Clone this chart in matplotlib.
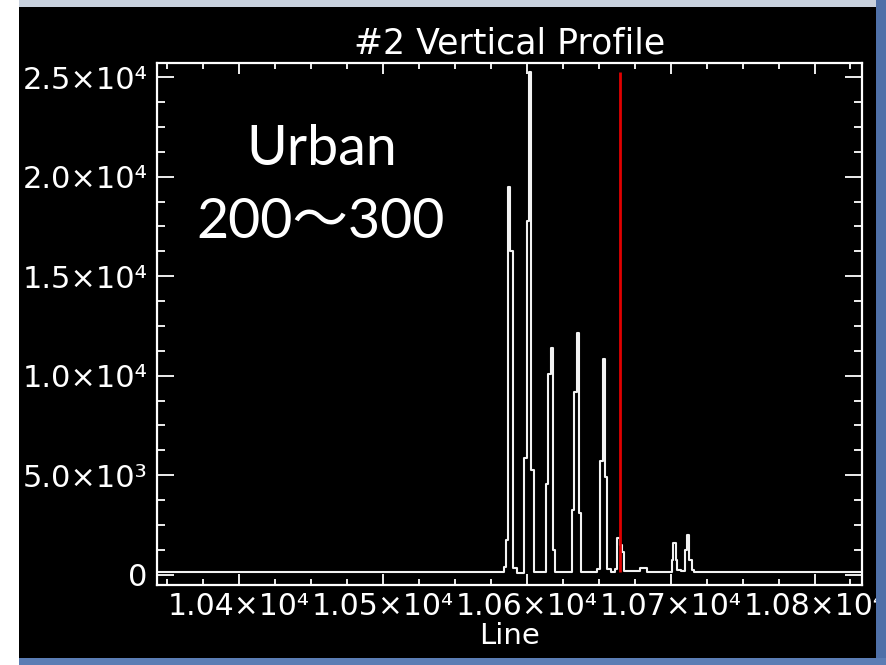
import matplotlib
matplotlib.use("Agg")
import matplotlib.pyplot as plt
from matplotlib.patches import Rectangle
from matplotlib.ticker import MultipleLocator, FixedLocator, FixedFormatter

# ---- data ----
line_edges = [10343, 10584.1, 10585.8, 10586.9, 10588.6, 10590.2, 10593.5,
              10598.2, 10600.1, 10601.6, 10603.2, 10604.8,
              10613.1, 10614.7, 10616.6, 10618.2, 10619.9,
              10631.7, 10632.8, 10634.7, 10636.3, 10637.8,
              10649.0, 10650.9, 10652.8, 10654.4, 10656.1, 10658.5, 10661.0,
              10663.0, 10664.8, 10666.0, 10667.6, 10678.7, 10683.9,
              10700.6, 10701.9, 10703.5, 10704.7, 10707.0,
              10710.0, 10711.7, 10713.1, 10714.5, 10716.3, 10833]
counts = [140, 400, 1750, 19480, 16260, 320, 60,
          5840, 17790, 25240, 5240, 120,
          4570, 10090, 11370, 1260, 150,
          3240, 9200, 12145, 3100, 130,
          300, 5700, 10830, 4900, 300, 120, 300,
          1820, 1500, 1150, 200, 330, 140,
          730, 1570, 730, 250, 200,
          1235, 1990, 730, 230, 140, 140]
assert len(line_edges) == len(counts)

marker_line = 10665
marker_range = [130, 25250]

x_ticks = [10400, 10500, 10600, 10700, 10800]
x_labels = ["1.04×10⁴", "1.05×10⁴", "1.06×10⁴", "1.07×10⁴", "1.08×10⁴"]
y_ticks = [0, 5000, 10000, 15000, 20000, 25000]
y_labels = ["0", "5.0×10³", "1.0×10⁴", "1.5×10⁴", "2.0×10⁴", "2.5×10⁴"]

title = "#2 Vertical Profile"
x_title = "Line"
note_lines = ["Urban", "200〜300"]

# ---- figure ----
W, H = 886, 665
fig = plt.figure(figsize=(W / 100, H / 100), dpi=100)
fig.patch.set_facecolor("white")

def px_rect(x0, y0, x1, y1, color, z):
    r = Rectangle((x0 / W, 1 - y1 / H), (x1 - x0) / W, (y1 - y0) / H,
                  transform=fig.transFigure, facecolor=color, edgecolor="none",
                  zorder=z)
    fig.add_artist(r)

px_rect(19, 7, 876, 658, "black", -10)
px_rect(19, 0, 886, 7, "#c8d1de", 20)
px_rect(876, 0, 886, 665, "#4f70a8", 20)
px_rect(19, 658, 886, 665, "#5b7db4", 20)

ax = fig.add_axes([157 / W, (H - 585) / H, (862 - 157) / W, (585 - 63) / H])
ax.set_facecolor("black")
ax.plot(line_edges, counts, drawstyle="steps-post", color="#f2f2f2", lw=1.5)
ax.vlines(marker_line, marker_range[0], marker_range[1], color="#e00000", lw=2.0)

ax.set_xlim(10343, 10833)
ax.set_ylim(-520, 25710)

for s in ax.spines.values():
    s.set_color("white")
    s.set_linewidth(1.6)

ax.xaxis.set_major_locator(FixedLocator(x_ticks))
ax.xaxis.set_major_formatter(FixedFormatter(x_labels))
ax.xaxis.set_minor_locator(MultipleLocator(25))
ax.yaxis.set_major_locator(FixedLocator(y_ticks))
ax.yaxis.set_major_formatter(FixedFormatter(y_labels))
ax.yaxis.set_minor_locator(MultipleLocator(1250))

ax.tick_params(axis="both", which="both", direction="in", colors="white",
               top=True, right=True, width=1.3)
ax.tick_params(axis="x", which="major", length=8, pad=5)
ax.tick_params(axis="x", which="minor", length=4.5)
ax.tick_params(axis="y", which="major", length=12, pad=7)
ax.tick_params(axis="y", which="minor", length=6)
for lab in ax.get_xticklabels():
    lab.set_fontfamily("DejaVu Sans")
    lab.set_fontsize(21.5)
    lab.set_color("white")
for lab in ax.get_yticklabels():
    lab.set_fontfamily("DejaVu Sans")
    lab.set_fontsize(22)
    lab.set_color("white")

ax.set_title(title, color="white", fontsize=25, family="DejaVu Sans", pad=7)
ax.set_xlabel(x_title, color="white", fontsize=21, family="DejaVu Sans")
ax.xaxis.set_label_coords(0.5, (585 - 622) / (585 - 63))

fam = ["Lato", "Noto Sans CJK JP", "DejaVu Sans"]
fig.text(322 / W, 1 - 165 / H, note_lines[0], ha="center", va="baseline",
         fontsize=40, color="white", family=fam)
fig.text(321 / W, 1 - 238 / H, note_lines[1], ha="center", va="baseline",
         fontsize=40, color="white", family=fam)

fig.savefig("out.png", dpi=100, facecolor=fig.get_facecolor())
